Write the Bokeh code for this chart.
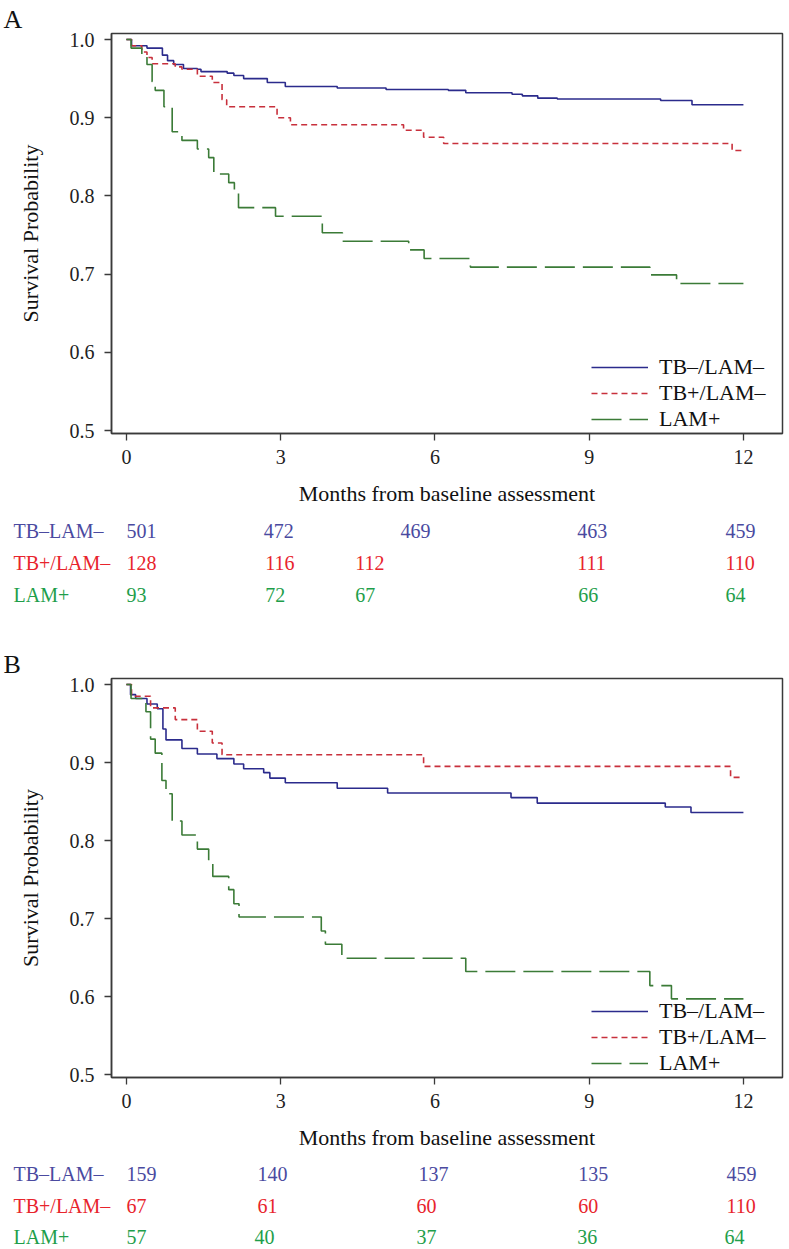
from bokeh.plotting import figure
from bokeh.layouts import column
from bokeh.models import Range1d, Legend, LegendItem, FixedTicker, ColumnDataSource, CustomJSTickFormatter, Title
from bokeh.embed import file_html
from bokeh.resources import INLINE
from bokeh.core.properties import value

FONT = "Liberation Serif"

# ---------------- data ----------------
month_ticks = [0, 3, 6, 9, 12]
surv_ticks = [0.5, 0.6, 0.7, 0.8, 0.9, 1.0]
legend_names = ["TB–/LAM–", "TB+/LAM–", "LAM+"]
table_row_names = ["TB–LAM–", "TB+/LAM–", "LAM+"]
panel_letters = ["A", "B"]

# Panel A – Kaplan-Meier steps (month, survival after step)
a_neg_t = [0, 0.10, 0.40, 0.70, 0.80, 0.92, 1.11, 1.38, 1.45, 1.96, 2.09, 2.28, 2.74, 3.09, 4.10, 5.05, 6.26, 6.60, 7.50, 7.70, 8.00, 8.38, 10.39, 11.00, 12.0]
a_neg_s = [1.0, 0.992, 0.989, 0.980, 0.973, 0.968, 0.963, 0.962, 0.959, 0.957, 0.954, 0.950, 0.945, 0.940, 0.938, 0.936, 0.935, 0.932, 0.930, 0.928, 0.925, 0.924, 0.922, 0.9165, 0.9165]
a_tb_t = [0, 0.10, 0.30, 0.40, 0.50, 0.95, 1.08, 1.38, 1.67, 1.86, 1.95, 2.93, 3.19, 5.39, 5.78, 6.17, 11.78, 12.0]
a_tb_s = [1.0, 0.992, 0.984, 0.977, 0.969, 0.965, 0.962, 0.953, 0.945, 0.923, 0.914, 0.900, 0.891, 0.884, 0.875, 0.867, 0.858, 0.858]
a_lam_t = [0, 0.09, 0.30, 0.40, 0.50, 0.56, 0.73, 0.89, 1.08, 1.38, 1.60, 1.70, 1.99, 2.10, 2.18, 2.90, 3.81, 4.20, 5.49, 5.79, 6.69, 10.18, 10.70, 12.0]
a_lam_s = [1.0, 0.989, 0.978, 0.968, 0.946, 0.935, 0.914, 0.882, 0.871, 0.860, 0.849, 0.828, 0.817, 0.806, 0.785, 0.774, 0.753, 0.742, 0.731, 0.720, 0.709, 0.699, 0.688, 0.688]

# Panel B
b_neg_t = [0, 0.08, 0.18, 0.40, 0.60, 0.71, 0.77, 1.08, 1.38, 1.76, 2.09, 2.28, 2.67, 2.79, 3.09, 4.10, 5.08, 7.48, 7.99, 10.48, 10.98, 12.0]
b_neg_s = [1.0, 0.987, 0.982, 0.975, 0.969, 0.943, 0.929, 0.918, 0.911, 0.905, 0.898, 0.892, 0.887, 0.880, 0.874, 0.867, 0.861, 0.855, 0.848, 0.843, 0.836, 0.836]
b_tb_t = [0, 0.10, 0.47, 0.95, 1.38, 1.67, 1.86, 5.78, 11.75, 12.0]
b_tb_s = [1.0, 0.985, 0.970, 0.955, 0.940, 0.925, 0.910, 0.895, 0.881, 0.881]
b_lam_t = [0, 0.09, 0.38, 0.47, 0.56, 0.69, 0.77, 0.89, 1.08, 1.38, 1.60, 1.68, 1.99, 2.09, 2.19, 3.79, 3.87, 4.19, 6.60, 10.18, 10.60, 12.0]
b_lam_s = [1.0, 0.982, 0.965, 0.930, 0.912, 0.877, 0.860, 0.825, 0.807, 0.789, 0.772, 0.754, 0.737, 0.719, 0.702, 0.684, 0.667, 0.649, 0.632, 0.614, 0.597, 0.597]

# Numbers at risk
a_risk_neg = [501, 472, 469, 463, 459]
a_risk_tb = [128, 116, 112, 111, 110]
a_risk_lam = [93, 72, 67, 66, 64]
b_risk_neg = [159, 140, 137, 135, 459]
b_risk_tb = [67, 61, 60, 60, 110]
b_risk_lam = [57, 40, 37, 36, 64]

# ---------------- layout / style ----------------
LINE_COLORS = ["#2b2b8c", "#c8303c", "#3b7b37"]
LINE_DASH = ["solid", "6 4", "30 8"]
TEXT_COLORS = ["#4a4aa0", "#e8242c", "#1e9e4a"]

W = 789
ML, MR = 111, 7
FRAME_H = 400
X0, X1 = -0.29, 12.76
Y0, Y1 = 0.4962, 1.0077
PX = (W - ML - MR) / (X1 - X0)      # pixels per month
TX0 = X0 - ML / PX                  # month value at the canvas' left edge
TX1 = TX0 + W / PX

# horizontal placement (months) of the numbers at risk, as laid out in the original
a_cell_x = [[0, 2.67, 5.33, 8.77, 11.65],
            [0, 2.70, 4.45, 8.77, 11.65],
            [0, 2.70, 4.45, 8.79, 11.65]]
b_cell_x = [[0, 2.55, 5.68, 8.79, 11.67],
            [0, 2.55, 5.64, 8.79, 11.67],
            [0, 2.49, 5.64, 8.77, 11.63]]


def panel(series, letter, top, bottom):
    p = figure(width=W, height=top + FRAME_H + bottom,
               x_range=Range1d(X0, X1), y_range=Range1d(Y0, Y1),
               min_border_left=ML, min_border_right=MR,
               min_border_top=top, min_border_bottom=bottom,
               toolbar_location=None, output_backend="svg", title=None)
    p.grid.visible = False
    p.outline_line_color = "#3a3a3a"
    p.outline_line_width = 1.5

    # panel letter (top-left corner)
    p.add_layout(Title(text=letter, align="left", offset=-(ML - 3), standoff=0,
                       vertical_align="bottom", text_font=FONT, text_font_size="26px",
                       text_font_style="normal", text_color="#111111"), "above")

    items = []
    for (t, s), name, col, dash in zip(series, legend_names, LINE_COLORS, LINE_DASH):
        r = p.step(t, s, mode="after", line_color=col, line_width=1.6, line_dash=dash)
        items.append(LegendItem(label=name, renderers=[r]))

    for ax in (p.xaxis[0], p.yaxis[0]):
        ax.axis_line_color = "#3a3a3a"
        ax.axis_line_width = 1.5
        ax.major_tick_line_color = "#3a3a3a"
        ax.major_tick_line_width = 1.3
        ax.major_tick_out = 7
        ax.major_tick_in = 0
        ax.minor_tick_line_color = None
        ax.major_label_text_font = FONT
        ax.major_label_text_font_size = "20px"
        ax.major_label_text_color = "#222222"
        ax.axis_label_text_font = FONT
        ax.axis_label_text_font_style = "normal"
        ax.axis_label_text_color = "#111111"
        ax.axis_label_text_font_size = "22px"

    p.xaxis.ticker = FixedTicker(ticks=month_ticks)
    p.yaxis.ticker = FixedTicker(ticks=surv_ticks)
    p.yaxis.formatter = CustomJSTickFormatter(code="return tick.toFixed(1);")
    p.xaxis.axis_label = "Months from baseline assessment"
    p.yaxis.axis_label = "Survival Probability"
    p.xaxis.major_label_standoff = 9
    p.xaxis.axis_label_standoff = 14
    p.yaxis.major_label_standoff = 10
    p.yaxis.axis_label_standoff = 24

    leg = Legend(items=items, location=(480, 1))
    leg.label_text_font = FONT
    leg.label_text_font_size = "22px"
    leg.label_text_line_height = 1.0
    leg.label_text_color = "#111111"
    leg.glyph_width = 57
    leg.glyph_height = 20
    leg.label_height = 20
    leg.label_standoff = 11
    leg.spacing = 0
    leg.padding = 0
    leg.margin = 0
    leg.border_line_color = None
    leg.background_fill_alpha = 0
    p.add_layout(leg)
    return p


def text_strip(height):
    t = figure(width=W, height=height, x_range=Range1d(TX0, TX1), y_range=Range1d(height, 0),
               min_border=0, x_axis_location=None, y_axis_location=None,
               toolbar_location=None, output_backend="svg", title=None)
    t.frame_align = False
    t.grid.visible = False
    t.outline_line_color = None
    return t


def add_table(t, counts, cell_x, rows_y):
    xs, ys, txt, cols = [], [], [], []
    for i, (row, xr) in enumerate(zip(counts, cell_x)):
        xs.append(TX0 + 13 / PX)
        ys.append(rows_y[i])
        txt.append(table_row_names[i])
        cols.append(TEXT_COLORS[i])
        for c, x in zip(row, xr):
            xs.append(x)
            ys.append(rows_y[i])
            txt.append(str(c))
            cols.append(TEXT_COLORS[i])
    src = ColumnDataSource(dict(x=xs, y=ys, text=txt, color=cols))
    t.text(x="x", y="y", text="text", text_color="color", source=src,
           text_font=value(FONT), text_font_size="20px",
           text_align="left", text_baseline="middle")


pA = panel([(a_neg_t, a_neg_s), (a_tb_t, a_tb_s), (a_lam_t, a_lam_s)], panel_letters[0], 33, 77)

tA = text_strip(130)
add_table(tA, [a_risk_neg, a_risk_tb, a_risk_lam], a_cell_x, [20, 52, 84])

pB = panel([(b_neg_t, b_neg_s), (b_tb_t, b_tb_s), (b_lam_t, b_lam_s)], panel_letters[1], 38, 74)

tB = text_strip(97)
add_table(tB, [b_risk_neg, b_risk_tb, b_risk_lam], b_cell_x, [21, 53, 84])

layout = column(pA, tA, pB, tB, spacing=0)
open("out.html", "w").write(file_html(layout, INLINE))
